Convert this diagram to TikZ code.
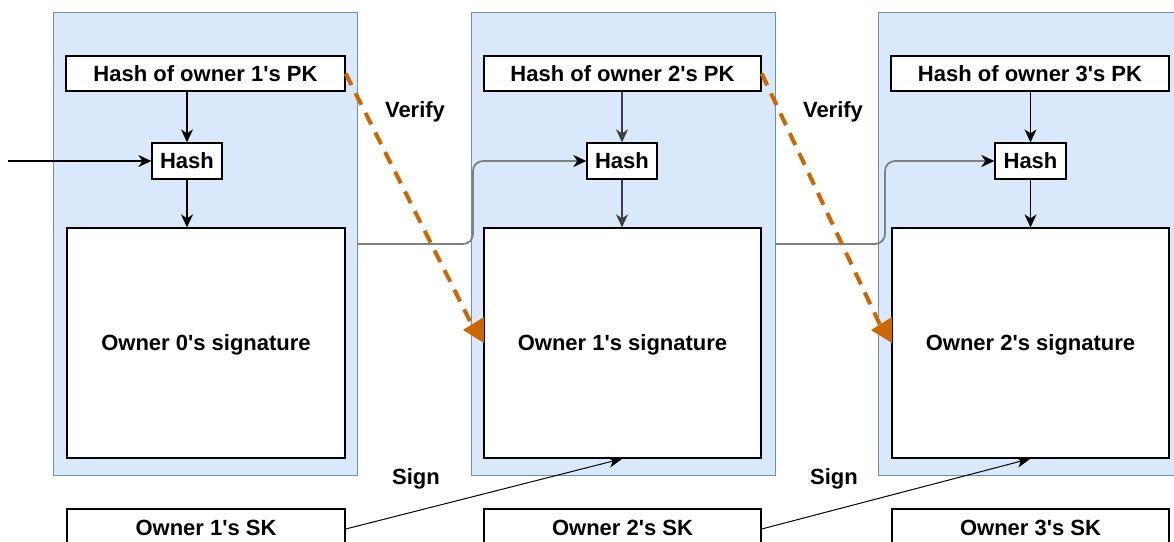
\documentclass[tikz,border=0pt]{standalone}
\usepackage{fontspec}
\setmainfont{Liberation Sans}
\usetikzlibrary{arrows.meta,calc}
\definecolor{cfill}{HTML}{DAE8FC}
\definecolor{cline}{HTML}{6C8EBF}
\definecolor{vorange}{HTML}{CC6600}
\definecolor{linkgray}{HTML}{808080}
\newcommand{\apos}{\textquotesingle}
\tikzset{
  container/.style={draw=cline, fill=cfill, line width=1pt, inner sep=0pt},
  whitebox/.style={draw=black, fill=white, line width=1.3pt, inner sep=0pt,
    text depth=0pt, font=\fontsize{22}{26}\selectfont\bfseries},
  lbl/.style={font=\fontsize{22}{26}\selectfont\bfseries, inner sep=0pt, text depth=0pt},
  harrow/.style={-{Stealth[length=13pt,width=12pt,inset=4pt]}, line width=1.3pt},
  link/.style={draw=linkgray, line width=1.8pt, rounded corners=10pt,
    -{Stealth[length=13pt,width=12pt,inset=4pt,color=black]}},
  verify/.style={draw=vorange, line width=4pt, dash pattern=on 13pt off 9pt},
  vtip/.style={fill=vorange},
  signarrow/.style={-{Stealth[length=14pt,width=11pt,inset=4pt]}, line width=1pt},
}
\begin{document}
\begin{tikzpicture}[x=1pt,y=-1pt]
\path[use as bounding box] (0,0) rectangle (1174,541);
\clip (0,0) rectangle (1174,541);

% containers
\node[container, minimum width=304pt, minimum height=463pt] (c1) at (205,243.5) {};
\node[container, minimum width=304pt, minimum height=463pt] (c2) at (623,243.5) {};
\node[container, minimum width=304pt, minimum height=463pt] (c3) at (1030,243.5) {};

% PK boxes
\node[whitebox, minimum width=279pt, minimum height=35pt] (pk1) at (205.5,73.5) {Hash of owner 1\apos s PK};
\node[whitebox, minimum width=277pt, minimum height=35pt] (pk2) at (622.5,73.5) {Hash of owner 2\apos s PK};
\node[whitebox, minimum width=278pt, minimum height=35pt] (pk3) at (1030,73.5) {Hash of owner 3\apos s PK};

% Hash boxes
\node[whitebox, minimum width=70pt, minimum height=36pt] (h1) at (187,161) {Hash};
\node[whitebox, minimum width=70pt, minimum height=36pt] (h2) at (622,161) {Hash};
\node[whitebox, minimum width=71pt, minimum height=36pt] (h3) at (1030.5,161) {Hash};

% signature boxes
\node[whitebox, minimum width=278pt, minimum height=230pt] (s1) at (206,343) {Owner 0\apos s signature};
\node[whitebox, minimum width=277pt, minimum height=230pt] (s2) at (622.5,343) {Owner 1\apos s signature};
\node[whitebox, minimum width=277pt, minimum height=230pt] (s3) at (1030.5,343) {Owner 2\apos s signature};

% SK boxes
\node[whitebox, minimum width=278pt, minimum height=40pt] (k1) at (206,529) {};
\node[whitebox, minimum width=277pt, minimum height=40pt] (k2) at (622.5,529) {};
\node[whitebox, minimum width=277pt, minimum height=40pt] (k3) at (1030.5,529) {};
\node[lbl] at (206,528) {Owner 1\apos s SK};
\node[lbl] at (622.5,528) {Owner 2\apos s SK};
\node[lbl] at (1030.5,528) {Owner 3\apos s SK};

% vertical arrows
\draw[harrow] (h1.north |- pk1.south) -- (h1.north);
\draw[harrow] (h1.south) -- (h1.south |- s1.north);
\draw[harrow, draw=black!75] (h2.north |- pk2.south) -- (h2.north);
\draw[harrow, draw=black!75] (h2.south) -- (h2.south |- s2.north);
\draw[harrow] (h3.north |- pk3.south) -- (h3.north);
\draw[harrow] (h3.south) -- (h3.south |- s3.north);

% incoming arrow
\coordinate (in) at (8,161);
\draw[harrow] (in) -- (h1.west);

% links between blocks
\coordinate (l1a) at (357,244);
\coordinate (l1b) at (473,244);
\coordinate (l1c) at (473,161);
\draw[link] (l1a) -- (l1b) -- (l1c) -- (h2.west);
\coordinate (l2a) at (775,244);
\coordinate (l2b) at (885,244);
\coordinate (l2c) at (885,161);
\draw[link] (l2a) -- (l2b) -- (l2c) -- (h3.west);

% verify arrows
\coordinate (v1e) at (473,327);
\coordinate (t1) at (484,330);
\draw[verify] (pk1.east) -- (v1e);
\fill[vtip] ($(t1)+(0,-13)$) -- ($(t1)+(-21,0)$) -- ($(t1)+(0,13)$) -- cycle;
\coordinate (v2e) at (881,327);
\coordinate (t2) at (892,330);
\draw[verify] (pk2.east) -- (v2e);
\fill[vtip] ($(t2)+(0,-13)$) -- ($(t2)+(-21,0)$) -- ($(t2)+(0,13)$) -- cycle;
\node[lbl] at (415,110) {Verify};
\node[lbl] at (833,110) {Verify};

% sign arrows
\draw[signarrow] (k1.east) -- (s2.south);
\draw[signarrow] (k2.east) -- (s3.south);
\node[lbl] at (416,477) {Sign};
\node[lbl] at (834,477) {Sign};
\end{tikzpicture}
\end{document}
